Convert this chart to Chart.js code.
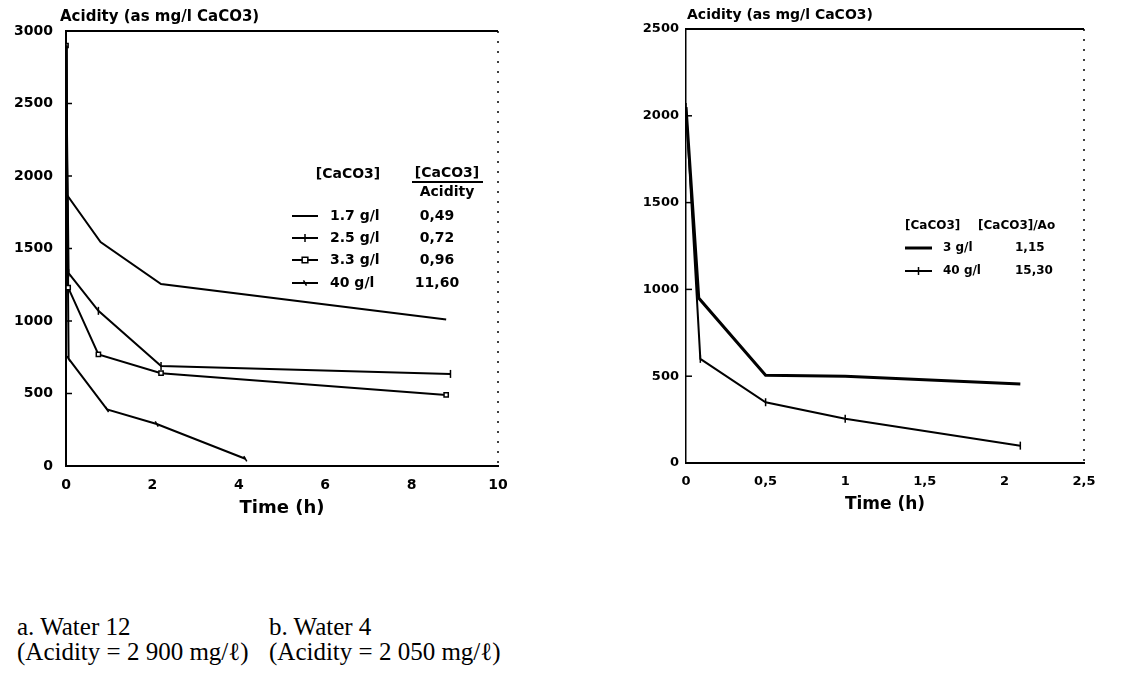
<!DOCTYPE html>
<html>
<head>
<meta charset="utf-8">
<script src="https://cdn.jsdelivr.net/npm/chart.js@4"></script>
<style>
body { margin: 0; background: #fff; width: 1146px; height: 696px; position: relative; overflow: hidden; }
canvas { position: absolute; top: 0; }
#chartA { left: 0; }
#chartB { left: 600px; }
.cap { position: absolute; font-family: "Liberation Serif", serif; font-size: 25px; line-height: 25px; color: #000; white-space: pre; }
</style>
</head>
<body>
<canvas id="chartA" width="545" height="530"></canvas>
<canvas id="chartB" width="546" height="530"></canvas>
<div class="cap" style="left:17px;top:614px">a. Water 12
(Acidity = 2 900 mg/ℓ)</div>
<div class="cap" style="left:269px;top:614px">b. Water 4
(Acidity = 2 050 mg/ℓ)</div>
<script>
// a. water 12
const timeA17 = [0, 0.02, 0.8, 2.2, 8.8];
const acidA17 = [2900, 1870, 1545, 1255, 1010];
const timeA25 = [0, 0.06, 0.75, 2.2, 8.9];
const acidA25 = [2900, 1330, 1070, 690, 635];
const timeA33 = [0, 0.05, 0.75, 2.2, 8.8];
const acidA33 = [2900, 1230, 770, 640, 490];
const timeA40 = [0, 0.06, 0.95, 2.1, 4.15];
const acidA40 = [2900, 740, 390, 290, 50];
const legendA = ['1.7 g/l', '2.5 g/l', '3.3 g/l', '40 g/l'];
const ratioA = ['0,49', '0,72', '0,96', '11,60'];
const yTicksA = ['0', '500', '1000', '1500', '2000', '2500', '3000'];
const xTicksA = ['0', '2', '4', '6', '8', '10'];

// b. water 4
const timeB3 = [0, 0.08, 0.5, 1.0, 2.1];
const acidB3 = [2050, 950, 505, 500, 455];
const timeB40 = [0, 0.09, 0.5, 1.0, 2.1];
const acidB40 = [2050, 600, 350, 255, 100];
const legendB = ['3 g/l', '40 g/l'];
const ratioB = ['1,15', '15,30'];
const yTicksB = ['0', '500', '1000', '1500', '2000', '2500'];
const xTicksB = ['0', '0,5', '1', '1,5', '2', '2,5'];

Chart.defaults.font.family = '"DejaVu Sans", sans-serif';
Chart.defaults.font.weight = 'bold';
Chart.defaults.color = '#000';

function pts(xs, ys) {
    return xs.map((x, i) => ({x: x, y: ys[i]}));
}

function series(label, xs, ys, extra) {
    return Object.assign({
        label: label,
        data: pts(xs, ys),
        borderColor: '#000',
        backgroundColor: '#fff',
        borderWidth: 2,
        pointRadius: 0,
        pointBorderColor: '#000',
        pointBorderWidth: 1.5,
        tension: 0
    }, extra || {});
}

// frame, inward ticks, y title and the legend table
const frame = {
    id: 'frame',
    afterDraw(chart, args, o) {
        const ctx = chart.ctx;
        const a = chart.chartArea;
        const y = chart.scales.y;
        ctx.save();
        ctx.strokeStyle = '#000';
        ctx.lineWidth = 2;
        ctx.beginPath();
        ctx.moveTo(a.left, a.top);
        ctx.lineTo(a.right, a.top);
        ctx.stroke();
        ctx.lineWidth = 1.5;
        ctx.setLineDash([2, 8]);
        ctx.beginPath();
        ctx.moveTo(a.right, a.top);
        ctx.lineTo(a.right, a.bottom);
        ctx.stroke();
        ctx.setLineDash([]);
        y.ticks.forEach(t => {
            const py = y.getPixelForValue(t.value);
            ctx.beginPath();
            ctx.moveTo(a.left, py);
            ctx.lineTo(a.left + 6, py);
            ctx.stroke();
        });

        ctx.fillStyle = '#000';
        ctx.textBaseline = 'middle';
        ctx.textAlign = 'left';
        ctx.font = o.titleFont;
        ctx.fillText(o.title, o.titleX, o.titleY);

        ctx.font = o.font;
        o.headers.forEach(h => {
            ctx.textAlign = h.align;
            ctx.fillText(h.text, h.x, h.y);
            if (h.underline) {
                ctx.lineWidth = 2;
                ctx.beginPath();
                ctx.moveTo(h.underline[0], h.underline[2]);
                ctx.lineTo(h.underline[1], h.underline[2]);
                ctx.stroke();
            }
        });
        chart.data.datasets.forEach((ds, i) => {
            const ry = o.rowY[i];
            ctx.lineWidth = ds.borderWidth;
            ctx.beginPath();
            ctx.moveTo(o.sampleX[0], ry);
            ctx.lineTo(o.sampleX[1], ry);
            ctx.stroke();
            if (ds.pointStyle && Chart.helpers && Chart.helpers.drawPoint) {
                ctx.fillStyle = '#fff';
                ctx.lineWidth = 1.5;
                Chart.helpers.drawPoint(ctx, {
                    pointStyle: ds.pointStyle, rotation: ds.pointRotation || 0,
                    radius: ds.legendRadius || 4, borderWidth: 1.5
                }, (o.sampleX[0] + o.sampleX[1]) / 2, ry);
                ctx.fillStyle = '#000';
            }
            ctx.textAlign = 'left';
            ctx.fillText(o.labels[i], o.labelX, ry);
            ctx.textAlign = o.valueAlign;
            ctx.fillText(o.values[i], o.valueX, ry);
        });
        ctx.restore();
    }
};

function makeChart(id, datasets, cfg) {
    return new Chart(document.getElementById(id), {
        type: 'line',
        data: {datasets: datasets},
        plugins: [frame],
        options: {
            responsive: false,
            animation: false,
            layout: {padding: cfg.padding},
            plugins: {
                legend: {display: false},
                tooltip: {enabled: false},
                frame: cfg.frame
            },
            scales: {
                x: {
                    type: 'linear',
                    min: 0,
                    max: cfg.xMax,
                    ticks: {
                        stepSize: cfg.xStep,
                        padding: 11,
                        font: {size: cfg.tickSize},
                        callback: (v, i) => cfg.xLabels[i]
                    },
                    grid: {display: false, drawTicks: false},
                    border: {display: true, color: '#000', width: 2},
                    title: {
                        display: true,
                        text: 'Time (h)',
                        font: {size: cfg.timeSize, weight: 'bold'},
                        padding: {top: 0, bottom: cfg.timePad}
                    },
                    afterFit: s => { s.height = cfg.xHeight; }
                },
                y: {
                    min: 0,
                    max: cfg.yMax,
                    ticks: {
                        stepSize: 500,
                        padding: cfg.yPad,
                        font: {size: cfg.tickSize},
                        callback: (v, i) => cfg.yLabels[i]
                    },
                    grid: {display: false, drawTicks: false},
                    border: {display: true, color: '#000', width: cfg.yBorderWidth, dash: cfg.yDash},
                    afterFit: s => { s.width = cfg.yWidth; }
                }
            }
        }
    });
}

makeChart('chartA', [
    series(legendA[0], timeA17, acidA17),
    series(legendA[1], timeA25, acidA25, {pointStyle: 'line', pointRotation: 90, pointRadius: 4}),
    series(legendA[2], timeA33, acidA33, {pointStyle: 'rect', pointRadius: 3, legendRadius: 4}),
    series(legendA[3], timeA40, acidA40, {pointStyle: 'line', pointRotation: 60, pointRadius: 3, legendRadius: 3})
], {
    padding: {left: 0, top: 31, right: 47, bottom: 0},
    xMax: 10, xStep: 2, xLabels: xTicksA,
    yMax: 3000, yLabels: yTicksA, yPad: 13,
    tickSize: 14, timeSize: 18, timePad: 11,
    xHeight: 64, yWidth: 66, yBorderWidth: 2, yDash: [],
    frame: {
        title: 'Acidity (as mg/l CaCO3)', titleFont: 'bold 15px "DejaVu Sans"', titleX: 60, titleY: 17,
        font: 'bold 14px "DejaVu Sans"',
        headers: [
            {text: '[CaCO3]', x: 348, y: 174, align: 'center'},
            {text: '[CaCO3]', x: 447, y: 173, align: 'center', underline: [412, 483, 182]},
            {text: 'Acidity', x: 447, y: 192, align: 'center'}
        ],
        labels: legendA, values: ratioA,
        rowY: [216, 238, 260, 283], sampleX: [292, 318], labelX: 330,
        valueX: 437, valueAlign: 'center'
    }
});

makeChart('chartB', [
    series(legendB[0], timeB3, acidB3, {borderWidth: 3}),
    series(legendB[1], timeB40, acidB40, {pointStyle: 'line', pointRotation: 90, pointRadius: 4})
], {
    padding: {left: 0, top: 29, right: 62, bottom: 0},
    xMax: 2.5, xStep: 0.5, xLabels: xTicksB,
    yMax: 2500, yLabels: yTicksB, yPad: 7,
    tickSize: 13, timeSize: 17, timePad: 15,
    xHeight: 67, yWidth: 86, yBorderWidth: 1.5, yDash: [5, 4],
    frame: {
        title: 'Acidity (as mg/l CaCO3)', titleFont: 'bold 14px "DejaVu Sans"', titleX: 87, titleY: 15,
        font: 'bold 12px "DejaVu Sans"',
        headers: [
            {text: '[CaCO3]', x: 305, y: 226, align: 'left'},
            {text: '[CaCO3]/Ao', x: 378, y: 226, align: 'left'}
        ],
        labels: legendB, values: ratioB,
        rowY: [248, 271], sampleX: [305, 332], labelX: 343,
        valueX: 415, valueAlign: 'left'
    }
});
</script>
</body>
</html>
